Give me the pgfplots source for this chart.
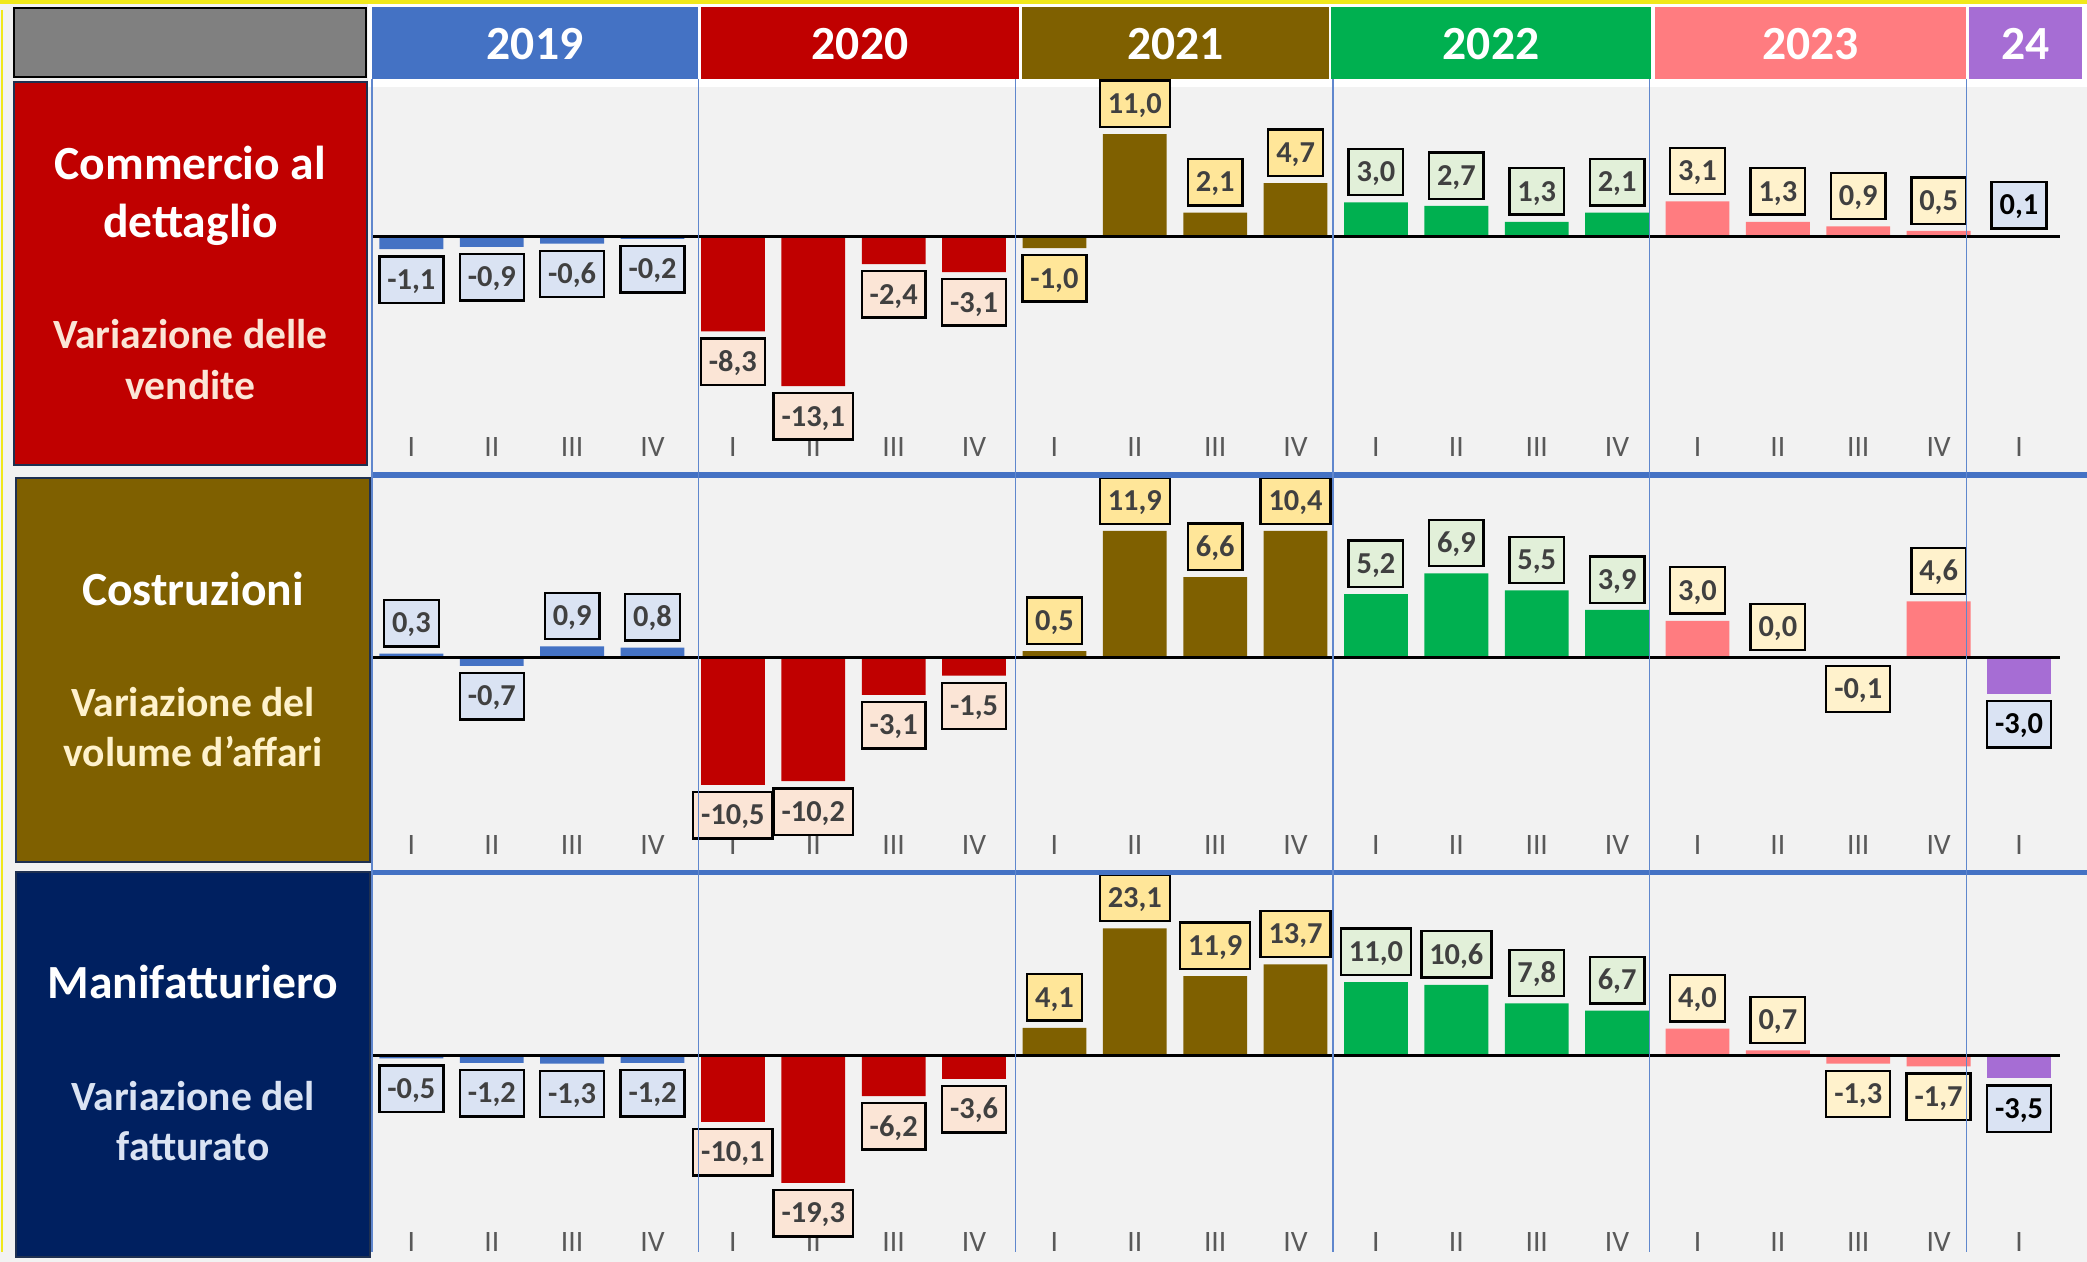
\documentclass[border=0pt]{standalone}
\usepackage{fontspec}
\setmainfont{Carlito}
\usepackage{pgfplots}
\usepackage{pgfplotstable}
\pgfplotsset{compat=1.18}

\definecolor{c19}{HTML}{4472C4}
\definecolor{c20}{HTML}{C00000}
\definecolor{c21}{HTML}{7F6000}
\definecolor{c22}{HTML}{00B050}
\definecolor{c23}{HTML}{FF7C80}
\definecolor{c24}{HTML}{A66DD4}
\definecolor{l19}{HTML}{DAE3F3}
\definecolor{l20}{HTML}{FBE5D6}
\definecolor{l21}{HTML}{FFE699}
\definecolor{l22}{HTML}{E2F0D9}
\definecolor{l23}{HTML}{FFF2CC}
\definecolor{l24}{HTML}{DAE3F3}
\definecolor{bg}{HTML}{F2F2F2}
\definecolor{navy}{HTML}{002060}
\definecolor{ylw}{HTML}{F0E81A}
\definecolor{labtxt}{HTML}{404040}
\definecolor{tickgray}{HTML}{595959}
\definecolor{boxline}{HTML}{1F3050}
\definecolor{hdrgray}{HTML}{808080}

\newcommand\hdr{\fontsize{11.9}{14}\selectfont\bfseries}
\newcommand\ttl{\fontsize{11.9}{14}\selectfont\bfseries}
\newcommand\sub{\fontsize{10.4}{12}\selectfont\bfseries}

% Commercio al dettaglio
\pgfplotstableread{
x y lab
0 -1.1 -1,1
1 -0.9 -0,9
2 -0.6 -0,6
3 -0.2 -0,2
4 -8.3 -8,3
5 -13.1 -13,1
6 -2.4 -2,4
7 -3.1 -3,1
8 -1.0 -1,0
9 11.0 11,0
10 2.1 2,1
11 4.7 4,7
12 3.0 3,0
13 2.7 2,7
14 1.3 1,3
15 2.1 2,1
16 3.1 3,1
17 1.3 1,3
18 0.9 0,9
19 0.5 0,5
20 0.1 0,1
}\commercio

% Costruzioni
\pgfplotstableread{
x y lab
0 0.3 0,3
1 -0.7 -0,7
2 0.9 0,9
3 0.8 0,8
4 -10.5 -10,5
5 -10.2 -10,2
6 -3.1 -3,1
7 -1.5 -1,5
8 0.5 0,5
9 11.9 11,9
10 6.6 6,6
11 10.4 10,4
12 5.2 5,2
13 6.9 6,9
14 5.5 5,5
15 3.9 3,9
16 3.0 3,0
17 0.0 0,0
18 -0.1 -0,1
19 4.6 4,6
20 -3.0 -3,0
}\costruzioni

% Manifatturiero
\pgfplotstableread{
x y lab
0 -0.5 -0,5
1 -1.2 -1,2
2 -1.3 -1,3
3 -1.2 -1,2
4 -10.1 -10,1
5 -19.3 -19,3
6 -6.2 -6,2
7 -3.6 -3,6
8 4.1 4,1
9 23.1 23,1
10 11.9 11,9
11 13.7 13,7
12 11.0 11,0
13 10.6 10,6
14 7.8 7,8
15 6.7 6,7
16 4.0 4,0
17 0.7 0,7
18 -1.3 -1,3
19 -1.7 -1,7
20 -3.5 -3,5
}\manifattura

\pgfplotsset{
 panel/.style={
  anchor=north west, scale only axis, width=428.75pt,
  xmin=-0.49, xmax=20.846,
  ybar, bar width=0.794, bar shift=0pt,
  axis line style={draw=none}, ytick=\empty,
  xtick={0,...,20},
  xticklabels={I,II,III,IV,I,II,III,IV,I,II,III,IV,I,II,III,IV,I,II,III,IV,I},
  major tick length=0pt,
  xticklabel style={anchor=center, font=\fontsize{7.4}{8}\selectfont, text=tickgray},
  point meta=explicit symbolic,
  visualization depends on={y \as \rawy},
  nodes near coords={\pgfplotspointmeta},
  nodes near coords style={draw=black, line width=0.6pt, text=labtxt,
    font=\fontsize{7.6}{8}\selectfont\bfseries, inner xsep=2.0pt, inner ysep=3.4pt,
    text height=4.8pt, text depth=0pt, outer sep=1.8pt,
    /utils/exec={\ifdim\rawy pt<0pt \def\myanc{north}\else\def\myanc{south}\fi},
    anchor=\myanc},
  clip=false,
 },
 grp/.style n args={4}{fill=#1, draw=none, restrict x to domain=#3:#4,
   nodes near coords style={fill=#2}},
}

\begin{document}
\begin{tikzpicture}[x=0.25pt, y=-0.25pt]
\path[use as bounding box, fill=bg] (0,0) rectangle (2087,1262);
\fill[ylw] (0,0) rectangle (2087,4);
\draw[ylw, line width=0.6pt] (2,10) -- (2,1252);
\fill[white] (368,4) rectangle (2087,87);
\filldraw[fill=hdrgray, draw=black, line width=0.6pt] (14,8) rectangle (366,77);

% year headers
\fill[c19] (372,7) rectangle (698,79);
\node[anchor=base, text=white, font=\hdr, inner sep=0pt] at (535,60) {2019};
\fill[c20] (701,7) rectangle (1019,79);
\node[anchor=base, text=white, font=\hdr, inner sep=0pt] at (860,60) {2020};
\fill[c21] (1022,7) rectangle (1329,79);
\node[anchor=base, text=white, font=\hdr, inner sep=0pt] at (1175.5,60) {2021};
\fill[c22] (1331,7) rectangle (1651,79);
\node[anchor=base, text=white, font=\hdr, inner sep=0pt] at (1491,60) {2022};
\fill[c23] (1655,7) rectangle (1966,79);
\node[anchor=base, text=white, font=\hdr, inner sep=0pt] at (1810.5,60) {2023};
\fill[c24] (1969,7) rectangle (2082,79);
\node[anchor=base, text=white, font=\hdr, inner sep=0pt] at (2025.5,60) {24};

% panel label boxes
\filldraw[fill=c20, draw=boxline, line width=0.5pt] (14,82) rectangle (367,465);
\node[anchor=base, text=white, font=\ttl, inner sep=0pt] at (190.5,180) {Commercio al};
\node[anchor=base, text=white, font=\ttl, inner sep=0pt] at (190.5,237.7) {dettaglio};
\node[anchor=base, text=l20, font=\sub, inner sep=0pt] at (190.5,348.3) {Variazione delle};
\node[anchor=base, text=l20, font=\sub, inner sep=0pt] at (190.5,399.3) {vendite};

\filldraw[fill=c21, draw=boxline, line width=0.5pt] (16,478) rectangle (370,862);
\node[anchor=base, text=white, font=\ttl, inner sep=0pt] at (193,605) {Costruzioni};
\node[anchor=base, text=l23, font=\sub, inner sep=0pt] at (193,716.7) {Variazione del};
\node[anchor=base, text=l23, font=\sub, inner sep=0pt] at (193,766.7) {volume d’affari};

\filldraw[fill=navy, draw=boxline, line width=0.5pt] (16,872) rectangle (370,1257);
\node[anchor=base, text=white, font=\ttl, inner sep=0pt] at (193,998.3) {Manifatturiero};
\node[anchor=base, text=l19, font=\sub, inner sep=0pt] at (193,1110) {Variazione del};
\node[anchor=base, text=l19, font=\sub, inner sep=0pt] at (193,1160) {fatturato};

\coordinate (a1) at (372,87);
\coordinate (a2) at (372,478);
\coordinate (a3) at (372,875);

% Panel 1
\begin{axis}[panel, at={(a1)}, height=96.5pt, ymin=-20.73, ymax=13.13,
  restrict y to domain*=-40:9.0, xticklabel style={yshift=6.5pt}]
\addplot[grp={c19}{l19}{-0.5}{3.5}] table[x=x, y=y, meta=lab] {\commercio};
\addplot[grp={c20}{l20}{3.5}{7.5}] table[x=x, y=y, meta=lab] {\commercio};
\addplot[grp={c21}{l21}{7.5}{11.5}] table[x=x, y=y, meta=lab] {\commercio};
\addplot[grp={c22}{l22}{11.5}{15.5}] table[x=x, y=y, meta=lab] {\commercio};
\addplot[grp={c23}{l23}{15.5}{19.5}] table[x=x, y=y, meta=lab] {\commercio};
\addplot[grp={c24}{l24}{19.5}{20.5}, nodes near coords style={text=black}] table[x=x, y=y, meta=lab] {\commercio};
\draw[black, line width=0.75pt] (-0.49,0) -- (20.51,0);
\end{axis}

% Panel 2
\begin{axis}[panel, at={(a2)}, height=98pt, ymin=-17.506, ymax=14.757,
  restrict y to domain*=-40:10.4, xticklabel style={yshift=6.25pt}]
\addplot[grp={c19}{l19}{-0.5}{3.5}] table[x=x, y=y, meta=lab] {\costruzioni};
\addplot[grp={c20}{l20}{3.5}{7.5}] table[x=x, y=y, meta=lab] {\costruzioni};
\addplot[grp={c21}{l21}{7.5}{11.5}] table[x=x, y=y, meta=lab] {\costruzioni};
\addplot[grp={c22}{l22}{11.5}{15.5}] table[x=x, y=y, meta=lab] {\costruzioni};
\addplot[grp={c23}{l23}{15.5}{19.5}] table[x=x, y=y, meta=lab] {\costruzioni};
\addplot[grp={c24}{l24}{19.5}{20.5}, nodes near coords style={text=black}] table[x=x, y=y, meta=lab] {\costruzioni};
\draw[black, line width=0.75pt] (-0.49,0) -- (20.51,0);
\end{axis}

% Panel 3
\begin{axis}[panel, at={(a3)}, height=96.75pt, ymin=-31.27, ymax=27.19,
  restrict y to domain*=-40:19.14, xticklabel style={yshift=5.1pt}]
\addplot[grp={c19}{l19}{-0.5}{3.5}] table[x=x, y=y, meta=lab] {\manifattura};
\addplot[grp={c20}{l20}{3.5}{7.5}] table[x=x, y=y, meta=lab] {\manifattura};
\addplot[grp={c21}{l21}{7.5}{11.5}] table[x=x, y=y, meta=lab] {\manifattura};
\addplot[grp={c22}{l22}{11.5}{15.5}] table[x=x, y=y, meta=lab] {\manifattura};
\addplot[grp={c23}{l23}{15.5}{19.5}] table[x=x, y=y, meta=lab] {\manifattura};
\addplot[grp={c24}{l24}{19.5}{20.5}, nodes near coords style={text=black}] table[x=x, y=y, meta=lab] {\manifattura};
\draw[black, line width=0.75pt] (-0.49,0) -- (20.51,0);
\end{axis}

% separators
\draw[c19, line width=1.3pt] (372,475) -- (2087,475);
\draw[c19, line width=1.3pt] (372,872.5) -- (2087,872.5);
\foreach \xx in {372,698.3,1015.3,1332.8,1649.6,1966.4}
  \draw[c19!85!white, line width=0.35pt] (\xx,79) -- (\xx,1252);
\end{tikzpicture}
\end{document}
